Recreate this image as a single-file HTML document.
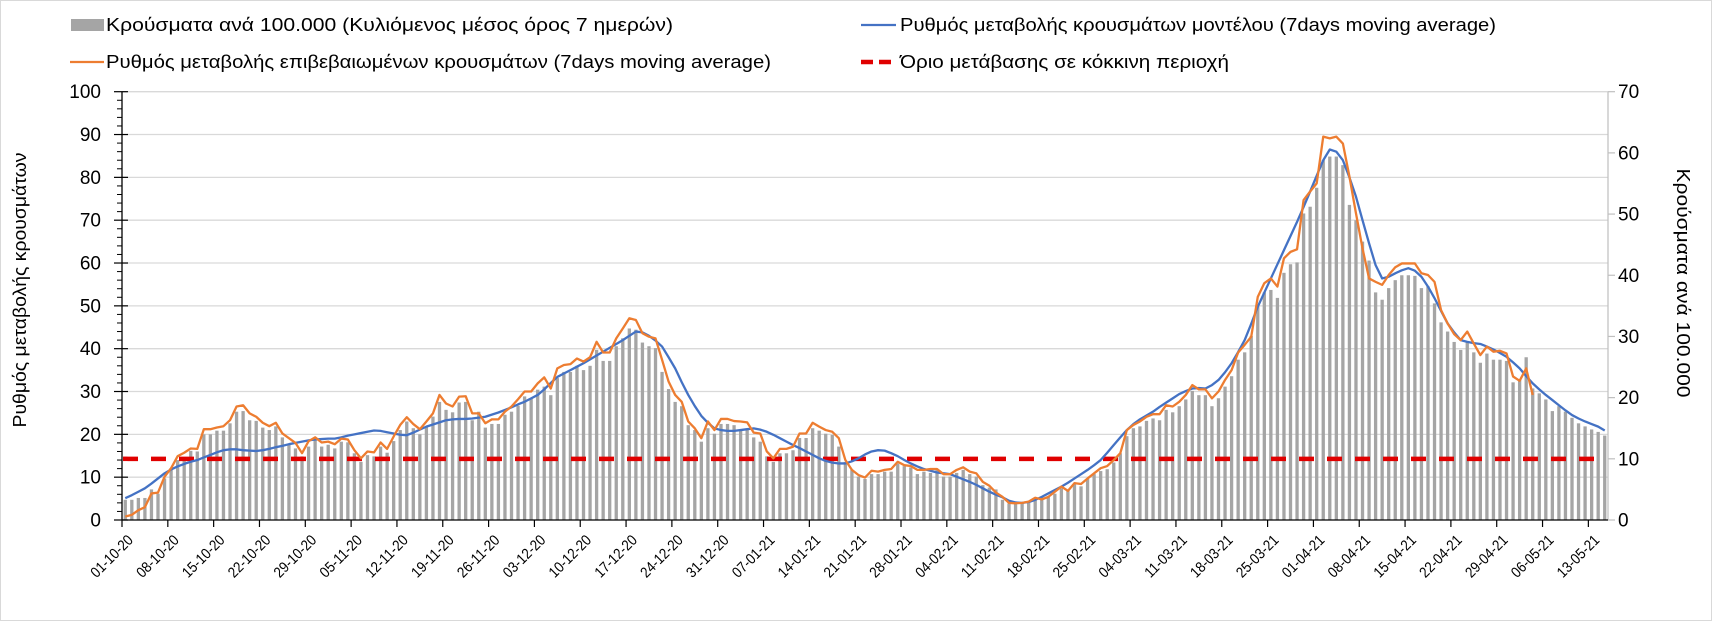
<!DOCTYPE html>
<html><head><meta charset="utf-8">
<style>
html,body{margin:0;padding:0;background:#fff;}
svg{display:block;font-family:"Liberation Sans","DejaVu Sans",sans-serif;}
</style></head>
<body>
<svg id="chart" width="1712" height="621" viewBox="0 0 1712 621" xmlns="http://www.w3.org/2000/svg">
<rect x="0.5" y="0.5" width="1711" height="620" fill="#fff" stroke="#d9d9d9"/>
<g id="grid"></g>
<g id="bars"></g>
<line x1="123" y1="463.7" x2="1606" y2="463.7" stroke="#e00000" stroke-width="4.5" stroke-dasharray="15,13" id="thresh"/>
<g id="lines"></g>
<g id="axes"></g>
<g font-size="18" fill="#000">
 <rect x="71" y="19" width="33" height="12" fill="#a5a5a5"/>
 <text x="106" y="31" textLength="567" lengthAdjust="spacingAndGlyphs">Κρούσματα ανά 100.000 (Κυλιόμενος μέσος όρος 7 ημερών)</text>
 <line x1="861" y1="25" x2="896" y2="25" stroke="#4472c4" stroke-width="2.2"/>
 <text x="900" y="31" textLength="596" lengthAdjust="spacingAndGlyphs">Ρυθμός μεταβολής κρουσμάτων μοντέλου (7days moving average)</text>
 <line x1="70" y1="62" x2="104" y2="62" stroke="#ed7d31" stroke-width="2.2"/>
 <text x="106" y="68" textLength="665" lengthAdjust="spacingAndGlyphs">Ρυθμός μεταβολής επιβεβαιωμένων κρουσμάτων (7days moving average)</text>
 <line x1="861" y1="62" x2="896" y2="62" stroke="#e00000" stroke-width="4.5" stroke-dasharray="12,6"/>
 <text x="900" y="68" textLength="329" lengthAdjust="spacingAndGlyphs">Όριο μετάβασης σε κόκκινη περιοχή</text>
</g>
<text transform="translate(26,290) rotate(-90)" text-anchor="middle" font-size="18" textLength="275" lengthAdjust="spacingAndGlyphs">Ρυθμός μεταβολής κρουσμάτων</text>
<text transform="translate(1677,283) rotate(90)" text-anchor="middle" font-size="18" textLength="229" lengthAdjust="spacingAndGlyphs">Κρούσματα ανά 100.000</text>
</svg>
<script>
const bars = [
3.3,3.3,3.6,3.6,5.0,4.3,6.8,8.5,9.8,10.1,
11.3,11.2,14.0,14.0,14.6,14.6,15.8,17.7,17.8,16.3,
16.2,15.1,14.7,15.3,13.5,12.5,11.7,10.4,12.0,13.1,
12.0,12.3,11.7,12.8,12.7,10.9,9.5,10.6,10.4,12.0,
11.0,12.9,14.7,16.1,15.0,14.0,15.3,16.9,19.3,18.0,
17.6,19.2,19.3,16.3,17.7,15.1,15.7,15.7,17.2,17.7,
18.7,20.2,19.9,21.3,21.8,20.4,23.2,24.2,24.2,25.2,
24.5,25.2,27.8,26.0,26.0,28.4,29.7,31.3,31.1,29.0,
28.4,28.1,24.2,21.4,19.3,18.6,15.5,14.7,12.8,15.0,
14.1,15.7,15.7,15.5,14.7,14.7,13.5,12.8,10.4,9.5,
10.9,10.9,11.4,13.4,13.4,15.0,14.6,14.1,13.9,12.0,
9.5,8.2,7.1,6.7,7.5,7.5,7.9,7.9,9.2,8.8,
8.6,7.5,7.9,7.7,8.2,7.1,7.1,7.7,8.2,7.5,
7.1,5.7,5.3,5.0,3.3,2.7,2.7,2.7,3.0,3.4,
3.8,3.8,4.3,5.2,4.9,5.9,5.5,6.8,7.5,8.0,
8.3,9.4,10.9,13.7,15.0,15.3,16.2,16.6,16.3,18.0,
17.6,18.6,19.7,21.1,20.4,20.4,18.6,19.9,21.8,23.5,
26.2,27.4,30.1,35.1,37.2,37.6,36.3,40.4,41.8,42.1,
50.1,51.2,54.3,58.8,59.4,59.4,58.0,51.5,49.0,45.5,
42.4,37.2,36.0,37.9,39.2,40.0,40.0,39.9,37.9,38.2,
35.4,32.3,30.8,29.1,27.8,29.0,27.4,25.7,27.2,26.2,
26.2,26.0,22.5,22.9,26.6,21.5,20.7,19.7,17.8,18.6,
17.7,16.7,15.8,15.3,14.8,14.4,13.8];
const modelRate = [
5.1,5.8,6.6,7.4,8.5,9.7,10.9,11.8,12.5,13.1,
13.6,14.0,14.6,15.2,15.8,16.3,16.5,16.5,16.3,16.2,
16.1,16.3,16.6,17.0,17.3,17.7,18.0,18.3,18.6,18.8,
18.9,19.0,19.0,19.3,19.7,20.0,20.3,20.6,20.9,20.8,
20.5,20.2,19.9,19.8,20.4,21.1,21.8,22.3,22.8,23.3,
23.5,23.6,23.6,23.7,23.9,24.1,24.6,25.1,25.7,26.3,
27.0,27.6,28.4,29.2,30.5,32.0,33.4,34.2,35.0,35.8,
36.6,37.5,38.4,39.3,40.2,41.1,42.0,43.0,44.0,43.8,
43.0,41.9,40.5,38.0,35.4,32.2,29.2,26.6,24.3,22.7,
21.4,21.0,20.8,20.8,21.0,21.2,21.4,21.1,20.6,19.9,
19.1,18.3,17.5,16.8,16.0,15.2,14.4,13.8,13.4,13.2,
13.2,13.7,14.4,15.3,16.0,16.3,16.2,15.6,14.9,14.0,
13.2,12.5,11.9,11.5,11.1,10.9,10.7,10.1,9.5,8.9,
8.2,7.4,6.6,5.9,5.3,4.5,4.1,4.0,4.2,4.7,
5.4,6.2,7.0,7.8,8.7,9.7,10.7,11.7,12.8,14.0,
15.7,17.5,19.3,21.0,22.4,23.5,24.4,25.3,26.4,27.4,
28.4,29.4,30.1,30.7,30.8,30.7,31.5,32.7,34.5,36.6,
39.2,42.0,45.8,49.8,53.1,56.4,59.7,63.0,66.3,69.6,
73.1,76.7,80.4,84.0,86.5,86.0,84.0,80.0,75.5,70.0,
64.6,59.5,56.4,56.8,57.6,58.3,58.8,58.2,56.8,54.5,
51.8,48.8,45.9,43.8,42.0,41.6,41.3,41.1,40.5,39.8,
39.0,38.1,36.8,35.4,33.6,31.9,30.5,29.2,28.0,26.8,
25.6,24.5,23.7,23.0,22.4,21.8,20.9];
const confirmedRate = [
0.8,1.2,2.3,3,6.2,6.4,10.1,12.1,14.9,15.7,16.7,16.6,21.2,21.2,21.6,21.9,23.3,26.5,26.8,24.9,
24.1,22.7,21.9,22.7,20.2,19.1,18,15.6,18.4,19.3,18.1,18.3,17.7,19,18.8,16.3,14.4,16,15.8,18.1,
16.6,19.5,22.2,24,22.4,21.2,23,24.9,29.2,27.2,26.5,28.8,28.9,24.9,24.9,22.6,23.5,23.5,25.3,26.5,
28.2,30,30,31.9,33.3,30.7,35.4,
36.2,36.4,37.7,37,38,41.6,39.1,39.1,42.4,44.7,47.1,46.7,43.6,42.8,42.4,37.4,32.3,29.2,27.6,23,
21.4,19.1,23,21,23.6,23.6,23.1,23,22.8,20.4,20.2,16,14.4,16.6,16.6,17.1,20.2,20.2,22.7,21.8,
21,20.6,19.1,14,11.7,10.5,9.9,11.5,11.3,11.7,11.9,13.6,12.8,12.6,11.7,11.7,11.9,11.9,10.7,10.7,
11.7,12.3,11.3,10.9,8.9,8,6.4,
5.4,4,3.9,4,4.3,5.2,4.8,5.4,6.6,7.8,6.8,8.6,8.4,9.7,10.9,12.1,12.6,14,15.6,21,
22.2,23,24.1,24.7,24.7,26.8,26.5,27.6,29.2,31.5,30.5,30.5,28.4,30,32.7,35,39.1,40.9,42.8,52.1,
55.3,56.4,54.5,61.1,62.6,63.2,74.7,76.7,78.6,89.5,89.1,89.5,87.9,80.2,71.6,63.4,56.4,55.6,54.9,57.2,
59,59.9,59.9,59.9,57.6,57.2,55.6,49,45.9,43.4,42,44,41.2,38.5,
40.5,39.3,39.5,38.9,33.5,32.5,35.4,29.2];
const threshold = [10];
const dateLabels = ["01-10-20","08-10-20","15-10-20","22-10-20","29-10-20","05-11-20","12-11-20","19-11-20","26-11-20","03-12-20","10-12-20","17-12-20","24-12-20","31-12-20","07-01-21","14-01-21","21-01-21","28-01-21","04-02-21","11-02-21","18-02-21","25-02-21","04-03-21","11-03-21","18-03-21","25-03-21","01-04-21","08-04-21","15-04-21","22-04-21","29-04-21","06-05-21","13-05-21"];
const leftTicks = [0,10,20,30,40,50,60,70,80,90,100];
const rightTicks = [0,10,20,30,40,50,60,70];

const NS = "http://www.w3.org/2000/svg";
const X0 = 122, X1 = 1608, Y0 = 520, YT = 91.7;
const slot = (X1 - X0) / 227;
const xC = i => X0 + slot * (i + 0.5);
const xB = i => X0 + slot * i;
const yL = v => Y0 - (v / 100) * (Y0 - YT);
const yR = v => Y0 - (v / 70) * (Y0 - YT);
function mk(tag, attrs, parent) {
  const el = document.createElementNS(NS, tag);
  for (const k in attrs) el.setAttribute(k, attrs[k]);
  parent.appendChild(el);
  return el;
}
const grid = document.getElementById('grid');
const axes = document.getElementById('axes');
leftTicks.forEach(v => {
  if (v > 0) {
    const g = mk('line', {x1: X0, x2: X1, y1: yL(v), y2: yL(v), stroke: '#d9d9d9', 'stroke-width': 1.3}, grid);
    
    
  }
  const t = mk('line', {x1: X0 - 8, x2: X0 + 6, y1: yL(v), y2: yL(v), stroke: '#000', 'stroke-width': 1.2}, axes);
  
  
  const lb = mk('text', {x: 101, y: yL(v) + 6.5, 'text-anchor': 'end', 'font-size': 19}, axes);
  lb.textContent = v;
  
  
});
for (let k = 0; k < leftTicks.length - 1; k++) {
  for (let m = 1; m < 5; m++) {
    const v = leftTicks[k] + (leftTicks[k+1] - leftTicks[k]) * m / 5;
    const t = mk('line', {x1: X0 - 5, x2: X0, y1: yL(v), y2: yL(v), stroke: '#000', 'stroke-width': 1}, axes);
    
    
  }
}
rightTicks.forEach(v => {
  const t = mk('line', {x1: X1, x2: X1 + 7, y1: yR(v), y2: yR(v), stroke: '#bfbfbf', 'stroke-width': 1.2}, axes);
  
  
  const lb = mk('text', {x: 1618, y: yR(v) + 6.5, 'text-anchor': 'start', 'font-size': 19}, axes);
  lb.textContent = v;
  
  
});
const la = mk('line', {x1: X0, x2: X0, y1: YT, y2: Y0, stroke: '#000', 'stroke-width': 1.3}, axes);


const ra = mk('line', {x1: X1, x2: X1, y1: YT, y2: Y0, stroke: '#bfbfbf', 'stroke-width': 1.2}, axes);


const xa = mk('line', {x1: X0, x2: X1, y1: Y0, y2: Y0, stroke: '#000', 'stroke-width': 1.3}, axes);


dateLabels.forEach((d, k) => {
  const x = xB(k * 7);
  const t = mk('line', {x1: x, x2: x, y1: Y0, y2: Y0 + 7, stroke: '#000', 'stroke-width': 1.2}, axes);
  
  
  const lx = x + 12, ly = 541;
  const lb = mk('text', {x: lx, y: ly, 'text-anchor': 'end', 'font-size': 15, textLength: 53, lengthAdjust: 'spacingAndGlyphs', transform: `rotate(-45 ${lx} ${ly})`}, axes);
  lb.textContent = d;
  
  
});
const barG = document.getElementById('bars');
const bw = 3.3;
bars.forEach((v, i) => {
  const r = mk('rect', {x: xC(i) - bw / 2, y: yR(v), width: bw, height: Y0 - yR(v), fill: '#a5a5a5'}, barG);
  
  
});
const th = document.getElementById('thresh');
th.setAttribute('y1', yR(threshold[0]));
th.setAttribute('y2', yR(threshold[0]));
const lineG = document.getElementById('lines');
function path(arr, color, name) {
  const d = arr.map((v, i) => (i ? 'L' : 'M') + xC(i).toFixed(2) + ' ' + yL(v).toFixed(2)).join(' ');
  const p = mk('path', {d: d, fill: 'none', stroke: color, 'stroke-width': 2.3, 'stroke-linejoin': 'round'}, lineG);
  
  
}
path(modelRate, '#4472c4', 'model-rate-line');
path(confirmedRate, '#ed7d31', 'confirmed-rate-line');
</script>
</body></html>
